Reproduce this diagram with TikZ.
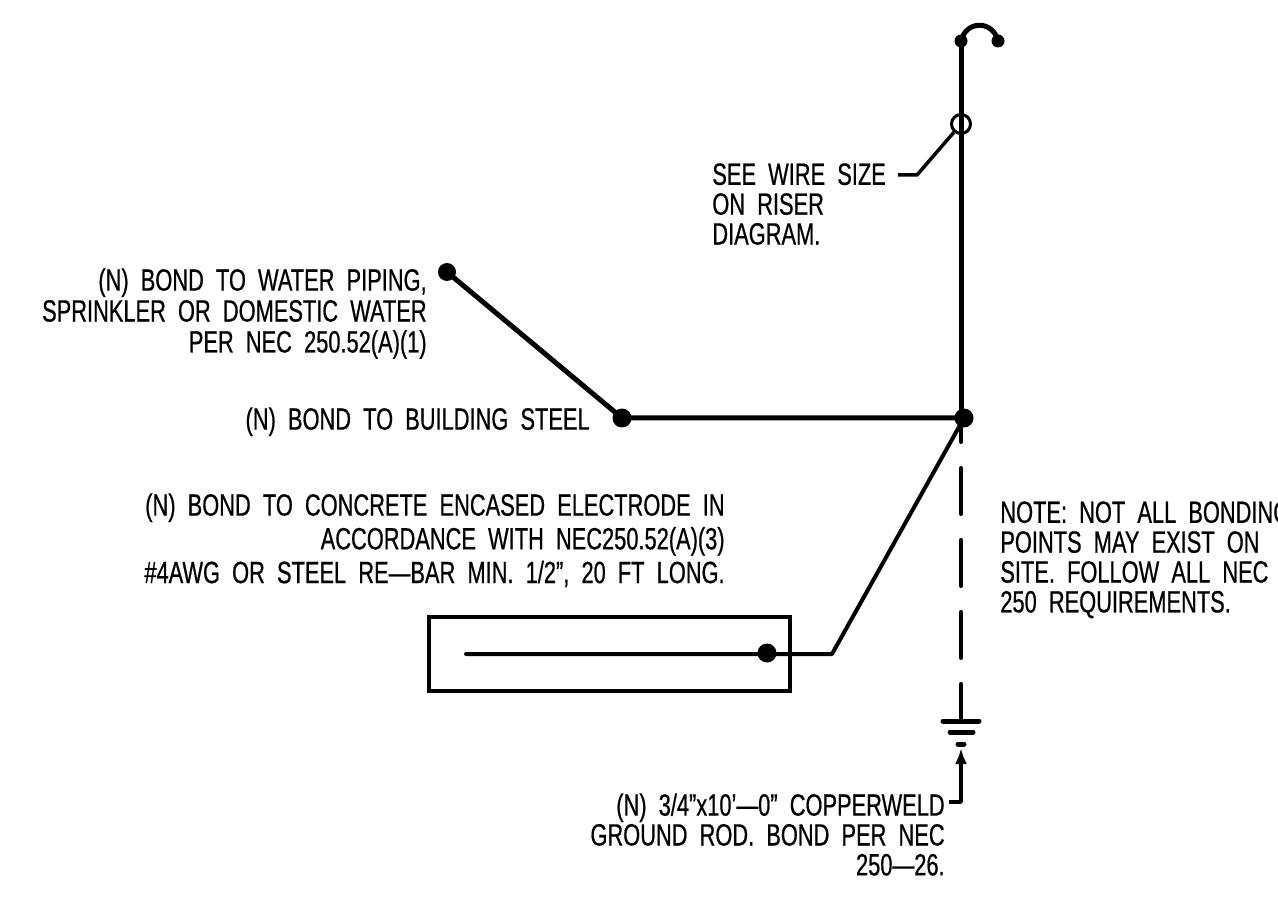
\documentclass[tikz,border=0pt]{standalone}
\usepackage{fontspec}
\setmainfont[FakeStretch=0.71,WordSpace=2,FakeBold=0.6]{Liberation Sans}
\usetikzlibrary{arrows.meta}
\tikzset{
  bonddot/.style={circle, fill=black, inner sep=0pt, minimum size=0.38cm},
  enddot/.style={circle, fill=black, inner sep=0pt, minimum size=0.26cm},
  wire/.style={line width=0.1cm, line cap=round, line join=round},
  thinwire/.style={line width=0.08cm, line cap=round, line join=round},
  leader/.style={line width=0.07cm, line join=round},
  notetext/.style={inner sep=0pt, font=\fontsize{17.5}{17}\selectfont}
}
\begin{document}
\begin{tikzpicture}[x=0.02cm, y=-0.02cm]
  \useasboundingbox (0,0) rectangle (1278,898);
  % main conductor
  \node[enddot] (topleft) at (961,41) {};
  \node[enddot] (topright) at (998,41) {};
  \node[bonddot] (junction) at (964,418) {};
  \node[draw, circle, line width=0.06cm, inner sep=0pt, minimum size=0.38cm] (wiremark) at (961,124) {};
  \coordinate (junctiontop) at (961,418);
  \coordinate (rodtop) at (961,720);
  \draw[wire] (topleft.center) -- (junctiontop);
  \draw[wire] (topleft.center) .. controls (966,20) and (993,20) .. (topright.center);
  \draw[thinwire, dash pattern=on 0.92cm off 0.52cm, dash phase=0.44cm] (junctiontop) -- (rodtop);
  % ground symbol
  \coordinate (bara1) at (943,721);
  \coordinate (bara2) at (979,721);
  \coordinate (barb1) at (950,732);
  \coordinate (barb2) at (973,732);
  \coordinate (barc1) at (958,744);
  \coordinate (barc2) at (964,744);
  \draw[wire] (bara1) -- (bara2);
  \draw[wire] (barb1) -- (barb2);
  \draw[wire] (barc1) -- (barc2);
  % bonds
  \node[bonddot, minimum size=0.36cm] (waterdot) at (447,272) {};
  \node[bonddot] (steeldot) at (622,418) {};
  \draw[wire] (waterdot.center) -- (steeldot.center) -- (junction.center);
  % encased electrode
  \node[draw, line width=0.08cm, inner sep=0pt, minimum width=7.22cm, minimum height=1.48cm] (encasement) at (609.5,654) {};
  \node[bonddot] (rebardot) at (767,653) {};
  \coordinate (rebarend) at (466,654);
  \coordinate (rebarbend) at (832,654);
  \draw[thinwire] (rebarend) -- (rebarbend) -- (junction.center);
  % leaders
  \coordinate (seelead) at (898,175);
  \coordinate (seebend) at (917,175);
  \coordinate (rodlead) at (949,802);
  \coordinate (rodtip) at (961,748);
  \draw[leader] (seelead) -- (seebend) -- (wiremark);
  \draw[leader, -{Latex[length=0.32cm,width=0.24cm]}] (rodlead) -| (rodtip);
  % text
  \node[notetext, align=left, anchor=north west] (seetext) at (712,163) {SEE WIRE SIZE\\ON RISER\\DIAGRAM.};
  \node[notetext, align=right, anchor=north east] (watertext) at (427,268) {(N) BOND TO WATER PIPING,\\[0.6pt]SPRINKLER OR DOMESTIC WATER\\[0.6pt]PER NEC 250.52(A)(1)};
  \node[notetext, align=right, anchor=north east] (steeltext) at (590,407) {(N) BOND TO BUILDING STEEL};
  \node[notetext, align=right, anchor=north east] (concretetext) at (725,493) {(N) BOND TO CONCRETE ENCASED ELECTRODE IN\\[2.2pt]ACCORDANCE WITH NEC250.52(A)(3)\\[2.2pt]\#4AWG OR STEEL RE---BAR MIN. 1/2", 20 FT LONG.};
  \node[notetext, align=left, anchor=north west] (notetext) at (1000,501) {NOTE: NOT ALL BONDING\\POINTS MAY EXIST ON\\SITE. FOLLOW ALL NEC\\250 REQUIREMENTS.};
  \node[notetext, align=right, anchor=north east] (rodtext) at (945,793) {(N) 3/4"x10'---0" COPPERWELD\\GROUND ROD. BOND PER NEC\\250---26.};
\end{tikzpicture}
\end{document}
